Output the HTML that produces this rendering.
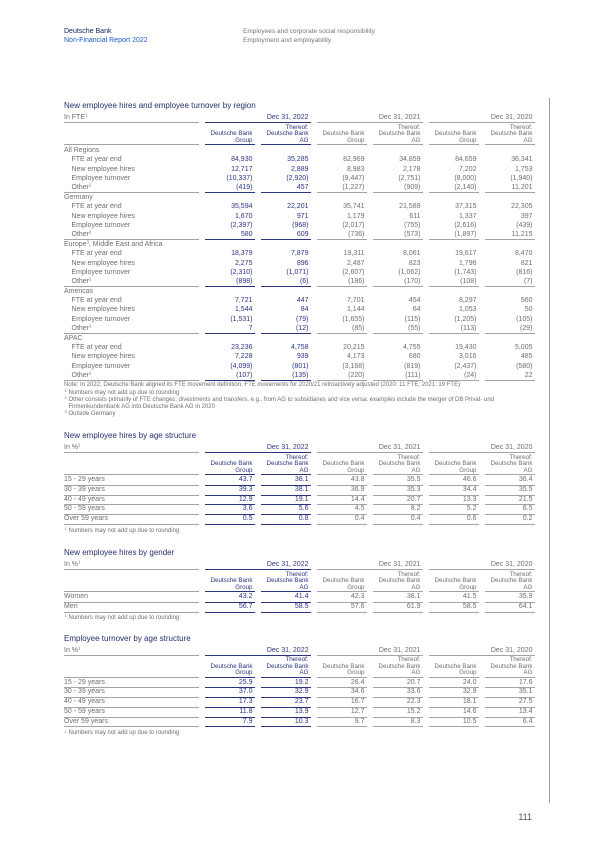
<!DOCTYPE html>
<html><head><meta charset="utf-8"><style>
*{margin:0;padding:0;}
body{width:600px;height:848px;position:relative;overflow:hidden;background:#fff;font-family:"Liberation Sans",Arial,sans-serif;color:#6e6e6e;}
.abs{position:absolute;white-space:nowrap;}
.t{position:absolute;left:64px;height:12px;line-height:12px;font-size:8px;color:#262d6e;white-space:nowrap;}
.tbl{position:absolute;left:0;width:600px;}
.row{position:relative;height:9.2px;font-size:7px;}
.row>span{position:absolute;top:0;height:9.2px;line-height:9.2px;white-space:nowrap;box-sizing:border-box;}
.l{left:64px;width:135px;}
.i{padding-left:7.5px;}
.c{width:50px;text-align:right;padding-right:2.5px;}
.a{left:205px;color:#2b3481;}
.b{left:261px;color:#2b3481;}
.cc{left:317px;}
.d{left:373px;}
.e{left:429px;}
.f{left:485px;}
.ru{height:10.2px;}
.ru>span{height:10.2px;border-bottom:1px solid #a4a4a4;}
.rs{height:9.7px;}
.rs>span{height:9.7px;line-height:8.7px;border-bottom:1px solid #a4a4a4;}
.ru>.a,.ru>.b,.rs>.a,.rs>.b{border-bottom-color:#2b3481;}
.hin{height:9px;}
.hin>span{height:9px;line-height:8px;border-bottom:1px solid #a4a4a4;}
.y{width:106px;text-align:right;padding-right:2.5px;}
.y1{left:205px;color:#2b3481;border-bottom-color:#2b3481 !important;}
.y2{left:317px;}
.y3{left:429px;}
.hx{height:6.5px;font-size:6.2px;}
.hx>span{height:6.5px;line-height:6.5px;}
.hx.g{height:7.5px;}
.hx.g>span{height:7.5px;line-height:6.5px;border-bottom:1px solid #a4a4a4;}
.hx.g>.a,.hx.g>.b{border-bottom-color:#2b3481;}
.first{margin-top:1.75px;}
.d1{margin-top:1px;}
sup{font-size:4.2px;vertical-align:2.6px;line-height:0;}
.fn{position:absolute;left:64px;font-size:6px;line-height:7.2px;color:#6e6e6e;white-space:nowrap;}
.fl{position:relative;padding-left:4.5px;}
.fl .sn{position:absolute;left:0.5px;top:-0.9px;font-size:4px;line-height:4px;}
</style></head><body>

<div class="abs" style="left:64px;top:27.5px;font-size:7px;line-height:8px;color:#142064">Deutsche Bank</div>
<div class="abs" style="left:64px;top:36.5px;font-size:7px;line-height:8px;color:#1a5cc8">Non-Financial Report 2022</div>
<div class="abs" style="left:243px;top:27.5px;font-size:6.5px;line-height:8px;color:#777">Employees and corporate social responsibility</div>
<div class="abs" style="left:243px;top:36.5px;font-size:6.5px;line-height:8px;color:#777">Employment and employability</div>

<div class="abs" style="left:549px;top:98px;width:1px;height:705px;background:#9a9a9a"></div>

<!-- Table 1 -->
<div class="t" style="top:100px">New employee hires and employee turnover by region</div>
<div class="tbl" style="top:114px">
  <div class="row hin"><span class="l">In FTE<sup>1</sup></span><span class="y y1">Dec 31, 2022</span><span class="y y2">Dec 31, 2021</span><span class="y y3">Dec 31, 2020</span></div>
  <div class="row hx first"><span class="c b">Thereof:</span><span class="c d">Thereof:</span><span class="c f">Thereof:</span></div>
  <div class="row hx"><span class="c a">Deutsche Bank</span><span class="c b">Deutsche Bank</span><span class="c cc">Deutsche Bank</span><span class="c d">Deutsche Bank</span><span class="c e">Deutsche Bank</span><span class="c f">Deutsche Bank</span></div>
  <div class="row hx g"><span class="l"></span><span class="c a">Group</span><span class="c b">AG</span><span class="c cc">Group</span><span class="c d">AG</span><span class="c e">Group</span><span class="c f">AG</span></div>

  <div class="row d1"><span class="l">All Regions</span></div>
  <div class="row"><span class="l i">FTE at year end</span><span class="c a">84,930</span><span class="c b">35,285</span><span class="c cc">82,969</span><span class="c d">34,859</span><span class="c e">84,659</span><span class="c f">36,341</span></div>
  <div class="row"><span class="l i">New employee hires</span><span class="c a">12,717</span><span class="c b">2,889</span><span class="c cc">8,983</span><span class="c d">2,178</span><span class="c e">7,202</span><span class="c f">1,753</span></div>
  <div class="row"><span class="l i">Employee turnover</span><span class="c a">(10,337)</span><span class="c b">(2,920)</span><span class="c cc">(9,447)</span><span class="c d">(2,751)</span><span class="c e">(8,000)</span><span class="c f">(1,940)</span></div>
  <div class="row ru"><span class="l i">Other<sup>2</sup></span><span class="c a">(419)</span><span class="c b">457</span><span class="c cc">(1,227)</span><span class="c d">(909)</span><span class="c e">(2,140)</span><span class="c f">11,201</span></div>

  <div class="row"><span class="l">Germany</span></div>
  <div class="row"><span class="l i">FTE at year end</span><span class="c a">35,594</span><span class="c b">22,201</span><span class="c cc">35,741</span><span class="c d">21,589</span><span class="c e">37,315</span><span class="c f">22,305</span></div>
  <div class="row"><span class="l i">New employee hires</span><span class="c a">1,670</span><span class="c b">971</span><span class="c cc">1,179</span><span class="c d">611</span><span class="c e">1,337</span><span class="c f">397</span></div>
  <div class="row"><span class="l i">Employee turnover</span><span class="c a">(2,397)</span><span class="c b">(968)</span><span class="c cc">(2,017)</span><span class="c d">(755)</span><span class="c e">(2,616)</span><span class="c f">(439)</span></div>
  <div class="row ru"><span class="l i">Other<sup>2</sup></span><span class="c a">580</span><span class="c b">609</span><span class="c cc">(736)</span><span class="c d">(573)</span><span class="c e">(1,897)</span><span class="c f">11,215</span></div>

  <div class="row"><span class="l">Europe<sup>3</sup>, Middle East and Africa</span></div>
  <div class="row"><span class="l i">FTE at year end</span><span class="c a">18,379</span><span class="c b">7,879</span><span class="c cc">19,311</span><span class="c d">8,061</span><span class="c e">19,617</span><span class="c f">8,470</span></div>
  <div class="row"><span class="l i">New employee hires</span><span class="c a">2,275</span><span class="c b">896</span><span class="c cc">2,487</span><span class="c d">823</span><span class="c e">1,796</span><span class="c f">821</span></div>
  <div class="row"><span class="l i">Employee turnover</span><span class="c a">(2,310)</span><span class="c b">(1,071)</span><span class="c cc">(2,607)</span><span class="c d">(1,062)</span><span class="c e">(1,743)</span><span class="c f">(816)</span></div>
  <div class="row ru"><span class="l i">Other<sup>2</sup></span><span class="c a">(898)</span><span class="c b">(6)</span><span class="c cc">(186)</span><span class="c d">(170)</span><span class="c e">(108)</span><span class="c f">(7)</span></div>

  <div class="row"><span class="l">Americas</span></div>
  <div class="row"><span class="l i">FTE at year end</span><span class="c a">7,721</span><span class="c b">447</span><span class="c cc">7,701</span><span class="c d">454</span><span class="c e">8,297</span><span class="c f">560</span></div>
  <div class="row"><span class="l i">New employee hires</span><span class="c a">1,544</span><span class="c b">84</span><span class="c cc">1,144</span><span class="c d">64</span><span class="c e">1,053</span><span class="c f">50</span></div>
  <div class="row"><span class="l i">Employee turnover</span><span class="c a">(1,531)</span><span class="c b">(79)</span><span class="c cc">(1,655)</span><span class="c d">(115)</span><span class="c e">(1,205)</span><span class="c f">(105)</span></div>
  <div class="row ru"><span class="l i">Other<sup>2</sup></span><span class="c a">7</span><span class="c b">(12)</span><span class="c cc">(85)</span><span class="c d">(55)</span><span class="c e">(113)</span><span class="c f">(29)</span></div>

  <div class="row"><span class="l">APAC</span></div>
  <div class="row"><span class="l i">FTE at year end</span><span class="c a">23,236</span><span class="c b">4,758</span><span class="c cc">20,215</span><span class="c d">4,755</span><span class="c e">19,430</span><span class="c f">5,005</span></div>
  <div class="row"><span class="l i">New employee hires</span><span class="c a">7,228</span><span class="c b">939</span><span class="c cc">4,173</span><span class="c d">680</span><span class="c e">3,016</span><span class="c f">485</span></div>
  <div class="row"><span class="l i">Employee turnover</span><span class="c a">(4,099)</span><span class="c b">(801)</span><span class="c cc">(3,168)</span><span class="c d">(819)</span><span class="c e">(2,437)</span><span class="c f">(580)</span></div>
  <div class="row ru"><span class="l i">Other<sup>2</sup></span><span class="c a">(107)</span><span class="c b">(135)</span><span class="c cc">(220)</span><span class="c d">(111)</span><span class="c e">(24)</span><span class="c f">22</span></div>
</div>
<div class="fn" style="top:382.4px">
  <div>Note: In 2022, Deutsche Bank aligned its FTE movement definition, FTE movements for 2020/21 retroactively adjusted (2020: 11 FTE; 2021: 19 FTE)</div>
  <div class="fl"><span class="sn">1</span>Numbers may not add up due to rounding</div>
  <div class="fl"><span class="sn">2</span>Other consists primarily of FTE changes, divestments and transfers, e.g., from AG to subsidiaries and vice versa; examples include the merger of DB Privat- und</div>
  <div class="fl">Firmenkundenbank AG into Deutsche Bank AG in 2020</div>
  <div class="fl"><span class="sn">3</span>Outside Germany</div>
</div>

<!-- Table 2 -->
<div class="t" style="top:430px">New employee hires by age structure</div>
<div class="tbl" style="top:444px">
  <div class="row hin"><span class="l">In %<sup>1</sup></span><span class="y y1">Dec 31, 2022</span><span class="y y2">Dec 31, 2021</span><span class="y y3">Dec 31, 2020</span></div>
  <div class="row hx first"><span class="c b">Thereof:</span><span class="c d">Thereof:</span><span class="c f">Thereof:</span></div>
  <div class="row hx"><span class="c a">Deutsche Bank</span><span class="c b">Deutsche Bank</span><span class="c cc">Deutsche Bank</span><span class="c d">Deutsche Bank</span><span class="c e">Deutsche Bank</span><span class="c f">Deutsche Bank</span></div>
  <div class="row hx g"><span class="l"></span><span class="c a">Group</span><span class="c b">AG</span><span class="c cc">Group</span><span class="c d">AG</span><span class="c e">Group</span><span class="c f">AG</span></div>
  <div class="row rs d1"><span class="l">15 - 29 years</span><span class="c a">43.7</span><span class="c b">36.1</span><span class="c cc">43.8</span><span class="c d">35.5</span><span class="c e">46.6</span><span class="c f">36.4</span></div>
  <div class="row rs"><span class="l">30 - 39 years</span><span class="c a">39.3</span><span class="c b">38.1</span><span class="c cc">36.9</span><span class="c d">35.3</span><span class="c e">34.4</span><span class="c f">35.5</span></div>
  <div class="row rs"><span class="l">40 - 49 years</span><span class="c a">12.9</span><span class="c b">19.1</span><span class="c cc">14.4</span><span class="c d">20.7</span><span class="c e">13.3</span><span class="c f">21.5</span></div>
  <div class="row rs"><span class="l">50 - 59 years</span><span class="c a">3.6</span><span class="c b">5.6</span><span class="c cc">4.5</span><span class="c d">8.2</span><span class="c e">5.2</span><span class="c f">6.5</span></div>
  <div class="row rs"><span class="l">Over 59 years</span><span class="c a">0.5</span><span class="c b">0.8</span><span class="c cc">0.4</span><span class="c d">0.4</span><span class="c e">0.6</span><span class="c f">0.2</span></div>
</div>
<div class="fn" style="top:528.1px"><div class="fl"><span class="sn">1</span>Numbers may not add up due to rounding</div></div>

<!-- Table 3 -->
<div class="t" style="top:547px">New employee hires by gender</div>
<div class="tbl" style="top:561px">
  <div class="row hin"><span class="l">In %<sup>1</sup></span><span class="y y1">Dec 31, 2022</span><span class="y y2">Dec 31, 2021</span><span class="y y3">Dec 31, 2020</span></div>
  <div class="row hx first"><span class="c b">Thereof:</span><span class="c d">Thereof:</span><span class="c f">Thereof:</span></div>
  <div class="row hx"><span class="c a">Deutsche Bank</span><span class="c b">Deutsche Bank</span><span class="c cc">Deutsche Bank</span><span class="c d">Deutsche Bank</span><span class="c e">Deutsche Bank</span><span class="c f">Deutsche Bank</span></div>
  <div class="row hx g"><span class="l"></span><span class="c a">Group</span><span class="c b">AG</span><span class="c cc">Group</span><span class="c d">AG</span><span class="c e">Group</span><span class="c f">AG</span></div>
  <div class="row rs d1"><span class="l">Women</span><span class="c a">43.2</span><span class="c b">41.4</span><span class="c cc">42.3</span><span class="c d">38.1</span><span class="c e">41.5</span><span class="c f">35.9</span></div>
  <div class="row rs"><span class="l">Men</span><span class="c a">56.7</span><span class="c b">58.5</span><span class="c cc">57.6</span><span class="c d">61.9</span><span class="c e">58.5</span><span class="c f">64.1</span></div>
</div>
<div class="fn" style="top:615px"><div class="fl"><span class="sn">1</span>Numbers may not add up due to rounding</div></div>

<!-- Table 4 -->
<div class="t" style="top:632.5px">Employee turnover by age structure</div>
<div class="tbl" style="top:646.5px">
  <div class="row hin"><span class="l">In %<sup>1</sup></span><span class="y y1">Dec 31, 2022</span><span class="y y2">Dec 31, 2021</span><span class="y y3">Dec 31, 2020</span></div>
  <div class="row hx first"><span class="c b">Thereof:</span><span class="c d">Thereof:</span><span class="c f">Thereof:</span></div>
  <div class="row hx"><span class="c a">Deutsche Bank</span><span class="c b">Deutsche Bank</span><span class="c cc">Deutsche Bank</span><span class="c d">Deutsche Bank</span><span class="c e">Deutsche Bank</span><span class="c f">Deutsche Bank</span></div>
  <div class="row hx g"><span class="l"></span><span class="c a">Group</span><span class="c b">AG</span><span class="c cc">Group</span><span class="c d">AG</span><span class="c e">Group</span><span class="c f">AG</span></div>
  <div class="row rs d1"><span class="l">15 - 29 years</span><span class="c a">25.9</span><span class="c b">19.2</span><span class="c cc">26.4</span><span class="c d">20.7</span><span class="c e">24.0</span><span class="c f">17.6</span></div>
  <div class="row rs"><span class="l">30 - 39 years</span><span class="c a">37.0</span><span class="c b">32.9</span><span class="c cc">34.6</span><span class="c d">33.6</span><span class="c e">32.9</span><span class="c f">35.1</span></div>
  <div class="row rs"><span class="l">40 - 49 years</span><span class="c a">17.3</span><span class="c b">23.7</span><span class="c cc">16.7</span><span class="c d">22.3</span><span class="c e">18.1</span><span class="c f">27.5</span></div>
  <div class="row rs"><span class="l">50 - 59 years</span><span class="c a">11.8</span><span class="c b">13.9</span><span class="c cc">12.7</span><span class="c d">15.2</span><span class="c e">14.6</span><span class="c f">13.4</span></div>
  <div class="row rs"><span class="l">Over 59 years</span><span class="c a">7.9</span><span class="c b">10.3</span><span class="c cc">9.7</span><span class="c d">8.3</span><span class="c e">10.5</span><span class="c f">6.4</span></div>
</div>
<div class="fn" style="top:730.4px"><div class="fl"><span class="sn">1</span>Numbers may not add up due to rounding</div></div>

<div class="abs" style="right:68px;top:811px;font-size:9px;line-height:12px;color:#555">111</div>

</body></html>
